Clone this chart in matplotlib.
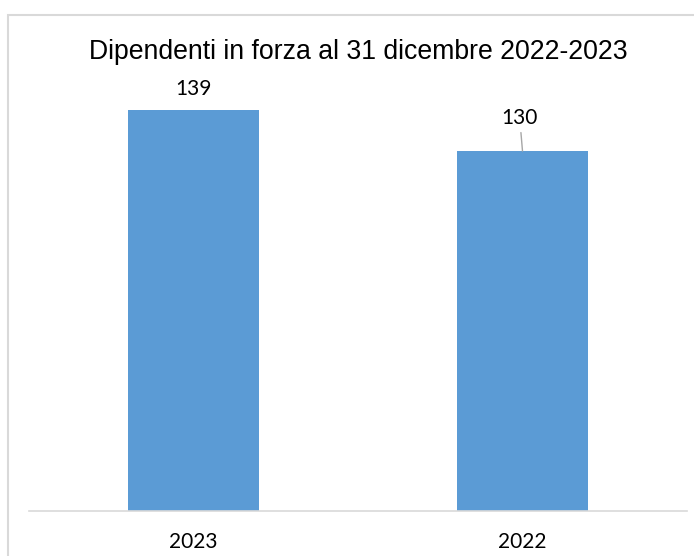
import matplotlib
matplotlib.use("Agg")
import matplotlib.pyplot as plt
from matplotlib.patches import Rectangle

TITLE = "Dipendenti in forza al 31 dicembre 2022-2023"
years = ["2023", "2022"]
employees = [139, 130]

BAR_COLOR = "#5b9bd5"
GRID_GRAY = "#d9d9d9"

fig = plt.figure(figsize=(6.94, 5.56), dpi=100)
ax = fig.add_axes([29 / 694, 1 - 511 / 556, (687 - 29) / 694, (511 - 75) / 556])

x = list(range(len(years)))
ax.bar(x, employees, width=0.4, color=BAR_COLOR, zorder=2)
ax.set_xlim(-0.5, 1.5)
ax.set_ylim(51, 146.7)

ax.set_xticks(x)
ax.set_xticklabels(years, family="Lato", fontsize=15, color="#000000")
ax.tick_params(axis="x", length=0, pad=15)
ax.set_yticks([])
for side in ["left", "right", "top"]:
    ax.spines[side].set_visible(False)
ax.spines["bottom"].set_color(GRID_GRAY)
ax.spines["bottom"].set_linewidth(1.2)

# data labels (second one sits higher, with a leader line)
ax.annotate(str(employees[0]), (x[0], employees[0]), xytext=(0, 15.5),
            textcoords="offset points", ha="center", va="center",
            family="Lato", fontsize=15)
ax.annotate(str(employees[1]), (x[1], employees[1]), xytext=(-2, 23.5),
            textcoords="offset points", ha="center", va="center",
            family="Lato", fontsize=15,
            arrowprops=dict(arrowstyle="-", color="#a6a6a6", lw=1,
                            shrinkA=1, shrinkB=0))

fig.text(358 / 694, 1 - 52 / 556, TITLE, ha="center", va="center",
         family="Liberation Sans", fontsize=19.2)

# outer chart frame
fig.patches.append(Rectangle((8 / 694, -0.1), 1.2, 1.1 - 15 / 556,
                             transform=fig.transFigure, fill=False,
                             edgecolor=GRID_GRAY, linewidth=1.5))

fig.savefig("out.png", dpi=100, facecolor="white")
